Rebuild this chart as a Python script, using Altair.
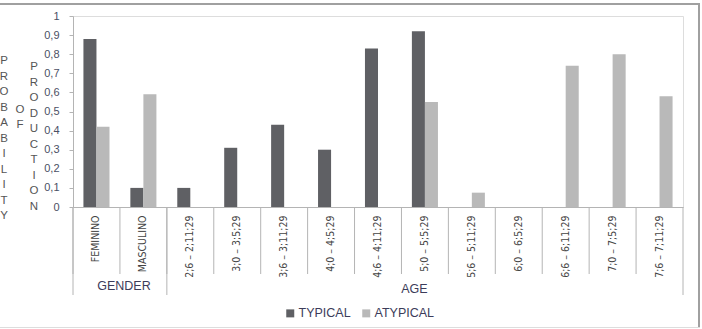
import altair as alt
import pandas as pd

categories = ["FEMININO", "MASCULINO",
              "2;6 – 2;11;29", "3;0 – 3;5;29", "3;6 – 3;11;29", "4;0 – 4;5;29",
              "4;6 – 4;11;29", "5;0 – 5;5;29", "5;6 – 5;11;29", "6;0 – 6;5;29",
              "6;6 – 6;11;29", "7;0 – 7;5;29", "7;6 – 7;11;29"]
typical = [0.88, 0.10, 0.10, 0.31, 0.43, 0.30, 0.83, 0.92, None, None, None, None, None]
atypical = [0.42, 0.59, None, None, None, None, None, 0.55, 0.075, None, 0.74, 0.80, 0.58]
series_names = ["TYPICAL", "ATYPICAL"]
series_colors = ["#5f6064", "#b9b9b9"]
y_ticks = [0, 0.1, 0.2, 0.3, 0.4, 0.5, 0.6, 0.7, 0.8, 0.9, 1]

rows = []
for c, t, a in zip(categories, typical, atypical):
    if t is not None:
        rows.append({"cat": c, "series": "TYPICAL", "value": t})
    if a is not None:
        rows.append({"cat": c, "series": "ATYPICAL", "value": a})
df = pd.DataFrame(rows)
cat_df = pd.DataFrame({"cat": categories})

LINE = "#b4b4b4"
FONT = "Liberation Sans"
NARROW = "Liberation Sans Narrow, DejaVu Sans Condensed, Liberation Sans"

xscale = alt.Scale(domain=categories, paddingInner=0, paddingOuter=0)

bars = alt.Chart(df).mark_bar().encode(
    x=alt.X("cat:N", scale=xscale, sort=categories, title=None,
            axis=alt.Axis(labelAngle=-90, ticks=False, domainColor=LINE,
                          labelPadding=8, labelFontSize=10.5, labelFont=NARROW,
                          labelColor="#444444", labelLimit=0)),
    xOffset=alt.XOffset("series:N", sort=series_names,
                        scale=alt.Scale(domain=series_names, paddingOuter=0.8, paddingInner=0)),
    y=alt.Y("value:Q", scale=alt.Scale(domain=[0, 1], nice=False), title=None,
            axis=alt.Axis(values=y_ticks, grid=False, tickSize=4, tickColor=LINE,
                          domainColor=LINE, labelPadding=10, labelFontSize=11,
                          labelFont=FONT, labelColor="#4b5064",
                          labelExpr="datum.value == 0 ? '0' : datum.value == 1 ? '1' : replace(format(datum.value, '.1f'), '.', ',')")),
    color=alt.Color("series:N", sort=series_names,
                    scale=alt.Scale(domain=series_names, range=series_colors),
                    legend=alt.Legend(orient="none", legendX=211, legendY=291,
                                      direction="horizontal", title=None,
                                      symbolType="square", symbolSize=64,
                                      symbolStrokeWidth=0, labelFontSize=12.5,
                                      labelFont=FONT, labelColor="#3c3c5a",
                                      labelOffset=2, columnPadding=9)),
)

# category separators
seps = alt.Chart(cat_df).mark_rule(color=LINE).encode(
    x=alt.X("cat:N", scale=xscale, sort=categories, bandPosition=0),
    y=alt.value(191), y2=alt.value(258),
)

group_df = pd.DataFrame({"cat": [categories[0], categories[2]]})
group_seps = alt.Chart(group_df).mark_rule(color=LINE).encode(
    x=alt.X("cat:N", scale=xscale, sort=categories, bandPosition=0),
    y=alt.value(191), y2=alt.value(279),
)
end_df = pd.DataFrame({"cat": [categories[-1]]})
end_sep = alt.Chart(end_df).mark_rule(color=LINE).encode(
    x=alt.X("cat:N", scale=xscale, sort=categories, bandPosition=1),
    y=alt.value(191), y2=alt.value(279),
)

gender_lbl = alt.Chart(pd.DataFrame({"cat": [categories[1]], "t": ["GENDER"]})).mark_text(
    fontSize=12.5, font=FONT, color="#3c3c5a", baseline="middle", dx=4
).encode(x=alt.X("cat:N", scale=xscale, sort=categories, bandPosition=0),
         y=alt.value(270), text="t:N")
age_lbl = alt.Chart(pd.DataFrame({"cat": [categories[7]], "t": ["AGE"]})).mark_text(
    fontSize=12.5, font=FONT, color="#3c3c5a", baseline="middle", dx=13
).encode(x=alt.X("cat:N", scale=xscale, sort=categories, bandPosition=0),
         y=alt.value(273), text="t:N")

one = alt.Data(values=[{}])
def vtitle(word, x, y):
    return alt.Chart(one).mark_text(
        fontSize=11.5, font=FONT, color="#555555", align="center",
        baseline="alphabetic", lineHeight=15.5
    ).encode(x=alt.value(x), y=alt.value(y), text=alt.value(list(word)))

t1 = vtitle("PROBABILITY", -69, 48)
t2 = vtitle("OF", -53, 96.5)
t3 = vtitle("PRODUCTION", -39, 54)

frame_top = alt.Chart(one).mark_rule(color="#a0a0a0", strokeWidth=2).encode(
    x=alt.value(-74), x2=alt.value(627), y=alt.value(-12))
frame_right = alt.Chart(one).mark_rule(color="#a0a0a0", strokeWidth=2).encode(
    x=alt.value(626), y=alt.value(-12), y2=alt.value(312))
frame_bottom = alt.Chart(one).mark_rule(color="#dddddd", strokeWidth=1).encode(
    x=alt.value(-74), x2=alt.value(627), y=alt.value(311.5))

chart = alt.layer(
    frame_top, frame_right, frame_bottom,
    seps, group_seps, end_sep, bars, gender_lbl, age_lbl, t1, t2, t3
).properties(
    width=610, height=191,
    autosize=alt.AutoSizeParams(type="none"),
    padding={"left": 73, "top": 16, "right": 19, "bottom": 122},
).configure_view(stroke=None).configure(background="white")

chart.save("out.html", embed_options={"renderer": "svg", "actions": False})
